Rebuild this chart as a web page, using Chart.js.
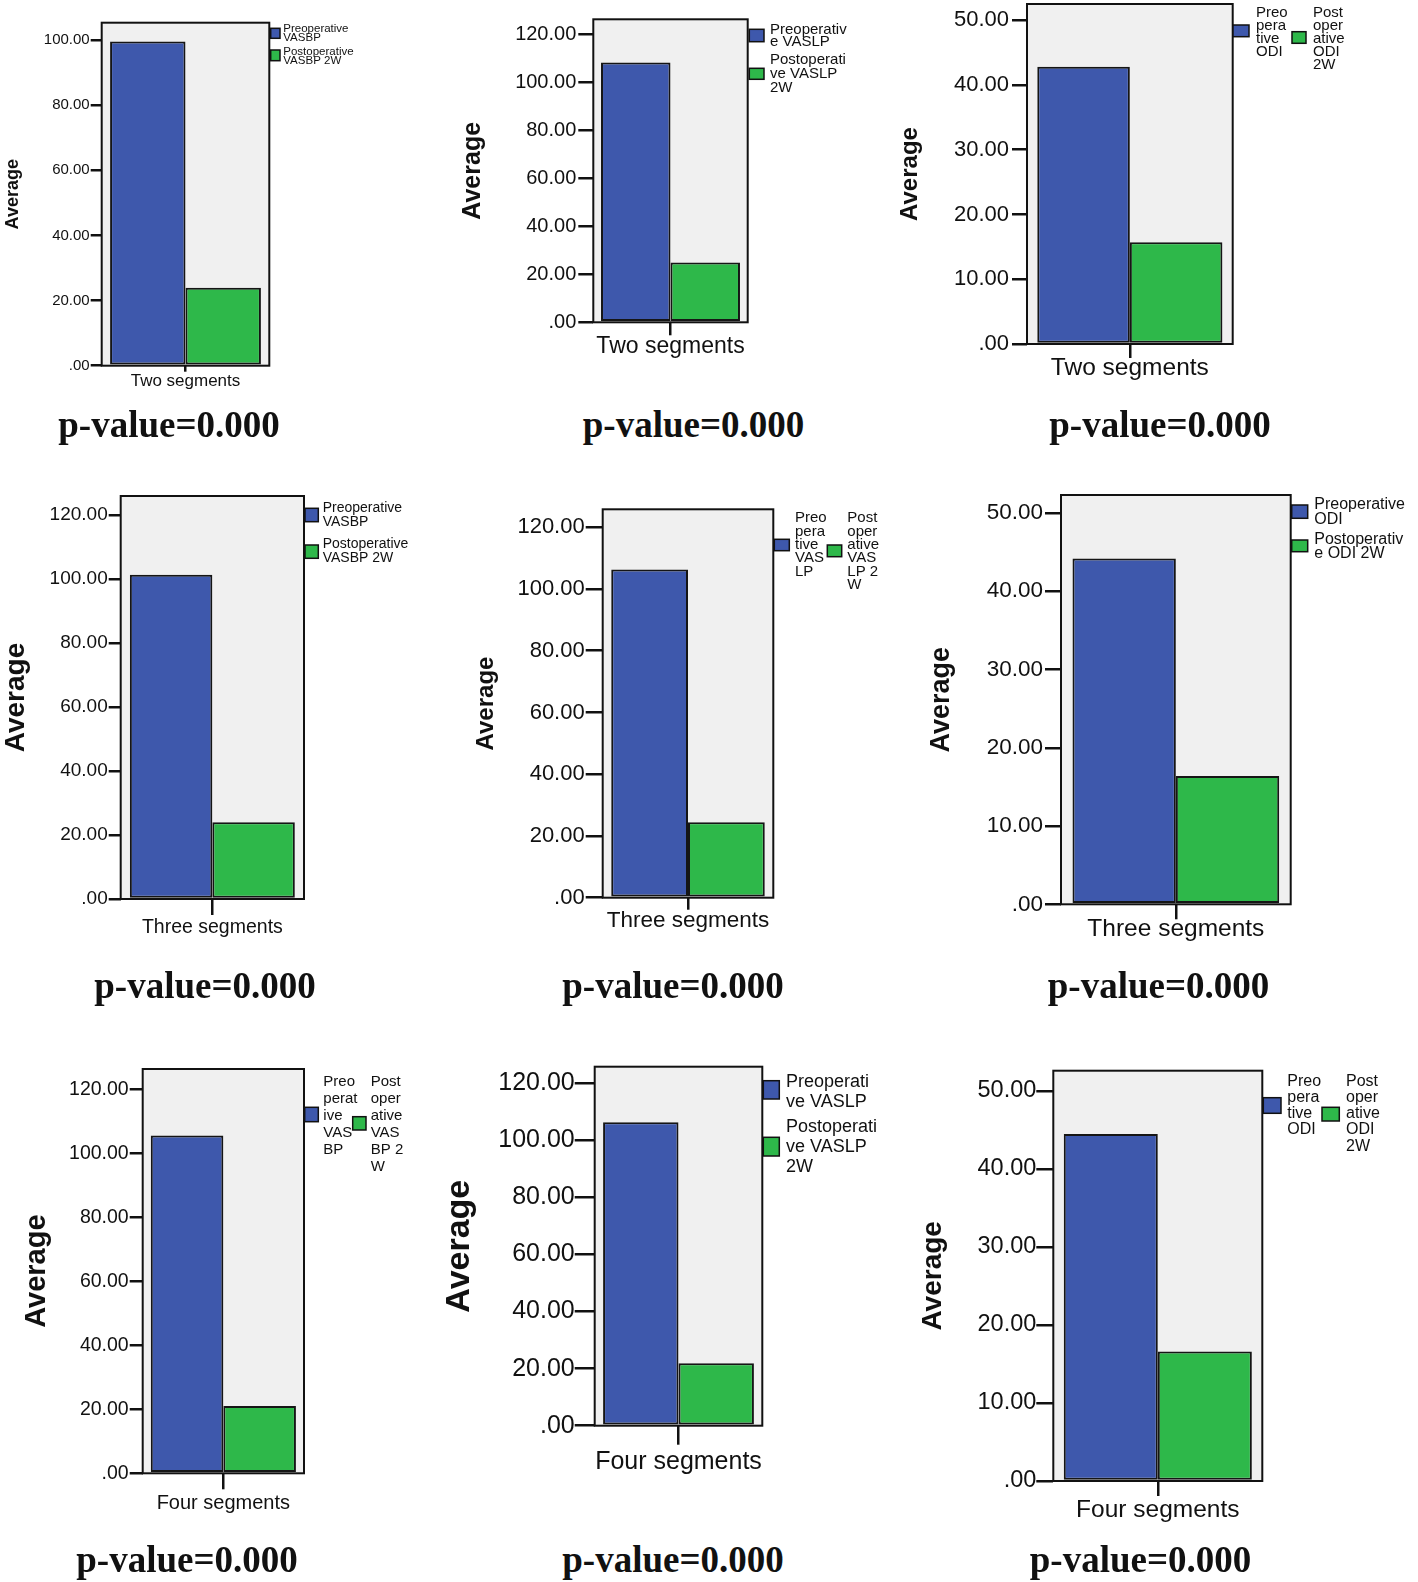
<!DOCTYPE html>
<html><head><meta charset="utf-8">
<script src="https://cdn.jsdelivr.net/npm/chart.js@4.4.1/dist/chart.umd.min.js"></script>
<style>
html,body{margin:0;padding:0;background:#fff;}
#page{position:relative;width:1418px;height:1582px;overflow:hidden;background:#fff;}
#page canvas{position:absolute;}
.pv{position:absolute;font-family:"Liberation Serif","Times New Roman",serif;font-weight:bold;font-size:37px;line-height:37px;white-space:nowrap;transform:translate(-50%,-50%);color:#111;}
</style></head><body><div id="page"></div>
<script>
// ---------- data ----------
const segments = ["Two segments", "Three segments", "Four segments"];
const preVASBP  = [99.5, 101.4, 105.5];
const postVASBP = [23.9, 24.0, 21.0];
const preVASLP  = [108.3, 106.3, 106.3];
const postVASLP = [24.9, 24.4, 21.9];
const preODI    = [42.8, 44.2, 44.5];
const postODI   = [15.7, 16.4, 16.6];
const vasTicks = [0, 20, 40, 60, 80, 100, 120];
const odiTicks = [0, 10, 20, 30, 40, 50];
const yTitle = "Average";
const pValueText = ["p-value=0.000","p-value=0.000","p-value=0.000",
                    "p-value=0.000","p-value=0.000","p-value=0.000",
                    "p-value=0.000","p-value=0.000","p-value=0.000"];
const legendPre = [
  ["Preoperative","VASBP"], ["Preoperativ","e VASLP"], ["Preo","pera","tive","ODI"],
  ["Preoperative","VASBP"], ["Preo","pera","tive","VAS","LP"], ["Preoperative","ODI"],
  ["Preo","perat","ive","VAS","BP"], ["Preoperati","ve VASLP"], ["Preo","pera","tive","ODI"]
];
const legendPost = [
  ["Postoperative","VASBP 2W"], ["Postoperati","ve VASLP","2W"], ["Post","oper","ative","ODI","2W"],
  ["Postoperative","VASBP 2W"], ["Post","oper","ative","VAS","LP 2","W"], ["Postoperativ","e ODI 2W"],
  ["Post","oper","ative","VAS","BP 2","W"], ["Postoperati","ve VASLP","2W"], ["Post","oper","ative","ODI","2W"]
];

// ---------- layout (page pixel positions / sizes) ----------
const PRE_COLOR = '#3e58ac', POST_COLOR = '#2eb84a', FRAME_BG = '#f0f0f0';
const FONT = "'Liberation Sans', Arial, sans-serif";
const layouts = [
 {L:101.7,T:22.7,R:269.3,B:365.7,max:105.3,tfs:15,tl:11,tp:1,ax:13,afs:18,xy:381,xfs:17,xtl:6,lfs:11.5,
  lg:[{bx:270.7,by:28.3,bw:9.3,bh:10,tx:283.3,y0:29.3,lh:9},{bx:270.7,by:50,bw:9.3,bh:10.7,tx:283.3,y0:51.7,lh:9.3}]},
 {L:593.3,T:19.3,R:747.7,B:322.3,max:126.25,tfs:20,tl:15,tp:2,ax:473,afs:25,xy:347,xfs:23,xtl:13,lfs:15,
  lg:[{bx:749.3,by:29.3,bw:14.7,bh:12.4,tx:770,y0:30,lh:12.3},{bx:749.3,by:68.3,bw:14.7,bh:11,tx:770,y0:60,lh:14}]},
 {L:1027,T:4,R:1232.7,B:344,max:52.5,tfs:22,tl:15,tp:3,ax:910,afs:24,xy:368,xfs:24.5,xtl:14,lfs:15,
  lg:[{bx:1233,by:25,bw:16,bh:11.7,tx:1256,y0:12.7,lh:13},{bx:1292,by:31.7,bw:14,bh:11.6,tx:1313,y0:12.7,lh:13}]},
 {L:120.7,T:496,R:304,B:899,max:126.0,tfs:19,tl:12,tp:1,ax:16.7,afs:28,xy:927.5,xfs:19.5,xtl:16,lfs:14,
  lg:[{bx:305,by:508.3,bw:13.3,bh:13.4,tx:322.7,y0:508.3,lh:13.4},{bx:305,by:545,bw:13.3,bh:13.3,tx:322.7,y0:544,lh:14}]},
 {L:602.7,T:509.3,R:773.3,B:897.7,max:125.8,tfs:22,tl:17,tp:1,ax:486.7,afs:24,xy:920.5,xfs:22.5,xtl:12,lfs:15,
  lg:[{bx:774.3,by:539.3,bw:15,bh:11.4,tx:795,y0:518.3,lh:13.3},{bx:827.3,by:545,bw:14.4,bh:11.7,tx:847.3,y0:518.3,lh:13.3}]},
 {L:1061,T:495,R:1290.7,B:904.3,max:52.3,tfs:22.5,tl:16,tp:2,ax:941.7,afs:27,xy:929.5,xfs:24.5,xtl:15,lfs:16,
  lg:[{bx:1291.7,by:505,bw:16,bh:13.3,tx:1314.3,y0:505,lh:15},{bx:1291.7,by:540,bw:16,bh:11.7,tx:1314.3,y0:540,lh:13.3}]},
 {L:142.7,T:1069,R:304,B:1473.3,max:126.3,tfs:19.5,tl:13,tp:1,ax:36.7,afs:29,xy:1503.3,xfs:20,xtl:16,lfs:15,
  lg:[{bx:304.7,by:1107.3,bw:13.6,bh:14.4,tx:323.3,y0:1081.7,lh:17.1},{bx:352.7,by:1116.7,bw:13.3,bh:13.3,tx:370.7,y0:1081.7,lh:17.1}]},
 {L:594.7,T:1066.7,R:762.3,B:1425.7,max:125.8,tfs:25,tl:20,tp:0,ax:460,afs:34,xy:1462.3,xfs:25,xtl:19,lfs:18,
  lg:[{bx:763.3,by:1080.7,bw:16,bh:18.3,tx:786,y0:1081.7,lh:20},{bx:763.3,by:1137.3,bw:16,bh:18.7,tx:786,y0:1126.7,lh:20}]},
 {L:1053.3,T:1070.7,R:1262.3,B:1481,max:52.6,tfs:23.5,tl:17,tp:0,ax:933.3,afs:28,xy:1510,xfs:24.5,xtl:15,lfs:16,
  lg:[{bx:1263.3,by:1097.7,bw:17.7,bh:15.6,tx:1287.3,y0:1081.7,lh:16.1},{bx:1322,by:1107.3,bw:17.3,bh:13.7,tx:1346,y0:1081.7,lh:16.1}]}
];
const pvPos = [[169,424],[693.5,424],[1160,424],[205,985],[673,985],[1158.5,985],[187,1559],[673,1559],[1140.5,1559]];

// ---------- plugin: SPSS-like frame + legend ----------
const framePlugin = {
  id: 'spssFrame',
  beforeDatasetsDraw(chart) {
    const {ctx, chartArea: a} = chart;
    ctx.save();
    ctx.fillStyle = FRAME_BG;
    ctx.fillRect(a.left, a.top, a.right - a.left, a.bottom - a.top);
    ctx.restore();
  },
  afterDraw(chart, args, o) {
    const {ctx, chartArea: a} = chart;
    ctx.save();
    ctx.strokeStyle = '#111'; ctx.lineWidth = 2;
    ctx.strokeRect(a.left, a.top, a.right - a.left, a.bottom - a.top);
    chart.data.datasets.forEach((ds, k) => {
      const it = o.items[k];
      const x = it.bx - o.cl, y = it.by - o.ct;
      ctx.fillStyle = ds.backgroundColor;
      ctx.fillRect(x, y, it.bw, it.bh);
      ctx.lineWidth = 1.5; ctx.strokeStyle = '#111';
      ctx.strokeRect(x, y, it.bw, it.bh);
      ctx.fillStyle = '#111';
      ctx.font = o.fs + 'px ' + FONT;
      ctx.textAlign = 'left'; ctx.textBaseline = 'middle';
      ds.legendLines.forEach((line, j) => {
        ctx.fillText(line, it.tx - o.cl, it.y0 - o.ct + j * it.lh);
      });
    });
    ctx.restore();
  }
};

const page = document.getElementById('page');
layouts.forEach((p, i) => {
  const row = Math.floor(i / 3), col = i % 3;
  const preVals = [preVASBP, preVASLP, preODI][col];
  const postVals = [postVASBP, postVASLP, postODI][col];
  const tickVals = (col === 2 ? odiTicks : vasTicks).filter(v => v <= p.max);
  const scaleLeft = p.ax - 0.6 * p.afs;
  const cl = Math.max(0, Math.floor(scaleLeft - 5));
  const cr = Math.min(1418, Math.ceil(p.R + 185));
  const ct = Math.max(0, Math.floor(p.T - 30));
  const cb = Math.min(1582, Math.ceil(p.B + 75));
  const canvas = document.createElement('canvas');
  canvas.width = cr - cl; canvas.height = cb - ct;
  canvas.style.left = cl + 'px'; canvas.style.top = ct + 'px';
  canvas.style.width = (cr - cl) + 'px'; canvas.style.height = (cb - ct) + 'px';
  page.appendChild(canvas);
  const yW = p.L - scaleLeft;
  const xH = cb - p.B;
  new Chart(canvas, {
    type: 'bar',
    data: {
      labels: [segments[row]],
      datasets: [
        {label: legendPre[i].join(''), legendLines: legendPre[i], data: [preVals[row]], backgroundColor: PRE_COLOR,
         borderColor: '#151515', borderWidth: 2, borderSkipped: false, categoryPercentage: 0.9, barPercentage: 1.0},
        {label: legendPost[i].join(''), legendLines: legendPost[i], data: [postVals[row]], backgroundColor: POST_COLOR,
         borderColor: '#151515', borderWidth: 2, borderSkipped: false, categoryPercentage: 0.9, barPercentage: 1.0}
      ]
    },
    options: {
      responsive: false, animation: false, devicePixelRatio: 1,
      events: [],
      layout: {padding: {left: scaleLeft - cl, top: p.T - ct, right: cr - p.R, bottom: 0}},
      plugins: {
        legend: {display: false}, tooltip: {enabled: false},
        spssFrame: {items: p.lg, cl: cl, ct: ct, fs: p.lfs}
      },
      scales: {
        x: {
          type: 'category', offset: true,
          grid: {offset: false, drawOnChartArea: false, drawTicks: true, tickLength: p.xtl, color: '#111', lineWidth: 2.5},
          border: {display: false},
          ticks: {font: {family: FONT, size: p.xfs}, color: '#111', autoSkip: false, maxRotation: 0, minRotation: 0,
                  padding: p.xy - p.B - p.xtl - 0.6 * p.xfs},
          afterFit(s) { s.height = xH; s.paddingLeft = 0; s.paddingRight = 0; }
        },
        y: {
          type: 'linear', min: 0, max: p.max,
          grid: {drawOnChartArea: false, drawTicks: true, tickLength: p.tl, color: '#111', lineWidth: 2.5},
          border: {display: false},
          ticks: {font: {family: FONT, size: p.tfs}, color: '#111', autoSkip: false, padding: p.tp,
                  callback: v => (v === 0 ? '.00' : Number(v).toFixed(2))},
          afterBuildTicks(s) { s.ticks = tickVals.map(v => ({value: v})); },
          title: {display: true, text: yTitle, color: '#111', padding: 0,
                  font: {family: FONT, size: p.afs, weight: 'bold'}},
          afterFit(s) { s.width = yW; s.paddingTop = 0; s.paddingBottom = 0; }
        }
      }
    },
    plugins: [framePlugin]
  });
});

pvPos.forEach((pos, i) => {
  const d = document.createElement('div');
  d.className = 'pv';
  d.textContent = pValueText[i];
  d.style.left = pos[0] + 'px';
  d.style.top = pos[1] + 'px';
  page.appendChild(d);
});
</script>
</body></html>
